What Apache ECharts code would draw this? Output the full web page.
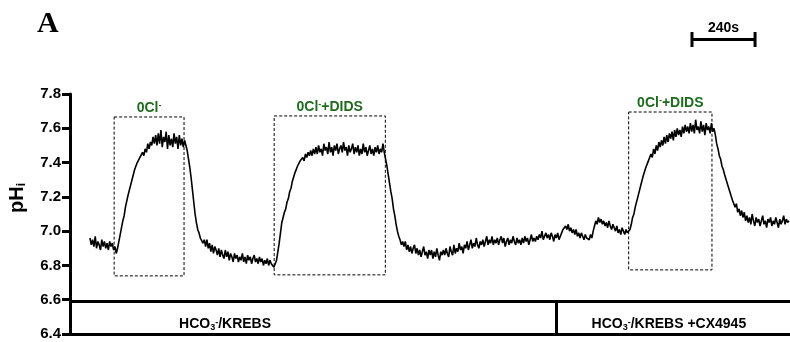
<!DOCTYPE html>
<html lang="en">
<head>
<meta charset="utf-8">
<title>pHi trace</title>
<script src="https://cdn.jsdelivr.net/npm/echarts@6.0.0/dist/echarts.min.js"></script>
<style>
  html, body { margin: 0; padding: 0; background: #fff; }
  #main { width: 790px; height: 342px; }
</style>
</head>
<body>
<div id="main"></div>
<script type="text/javascript">
// time axis in seconds, one sample every 5 s
var traceStart = 76;
var traceStep = 5;
var timeMax = 2740;

// pHi
var phTrace = [
  // baseline
  6.96, 6.92, 6.95, 6.91, 6.97, 6.90, 6.94, 6.92, 6.89, 6.95, 6.91, 6.94, 6.90, 6.93, 6.89, 6.94, 6.91, 6.93, 6.89, 6.91, 6.87,
  // 0Cl- on
  6.90, 6.94, 6.98, 7.02, 7.06, 7.09, 7.14, 7.15, 7.21, 7.24, 7.25, 7.30, 7.31, 7.36, 7.35,
  7.40, 7.39, 7.43, 7.42, 7.46, 7.44, 7.48, 7.46, 7.51, 7.48, 7.52, 7.50, 7.55, 7.51, 7.56,
  7.50, 7.57, 7.51, 7.59, 7.49, 7.55, 7.52, 7.58, 7.48, 7.56, 7.50, 7.54, 7.49, 7.57, 7.51, 7.55, 7.48, 7.56, 7.50, 7.54, 7.49, 7.53,
  // washout
  7.52, 7.47, 7.42, 7.37, 7.31, 7.24, 7.17, 7.10, 7.05, 7.01, 6.99, 6.96, 6.97, 6.93, 6.95,
  6.91, 6.95, 6.90, 6.93, 6.88, 6.92, 6.87, 6.91, 6.89, 6.86,
  6.90, 6.85, 6.89, 6.86, 6.84, 6.89, 6.85, 6.88, 6.83, 6.87,
  6.85, 6.82, 6.87, 6.84, 6.86, 6.82, 6.85, 6.83, 6.87, 6.82,
  6.85, 6.81, 6.86, 6.83, 6.85, 6.81, 6.84, 6.86, 6.82, 6.84,
  6.81, 6.85, 6.82, 6.84, 6.80, 6.83, 6.81, 6.84, 6.80, 6.83, 6.81, 6.82, 6.79, 6.81,
  // 0Cl- + DIDS on
  6.83, 6.88, 6.93, 6.99, 7.05, 7.08, 7.11, 7.13, 7.17, 7.19, 7.23, 7.25, 7.29, 7.30, 7.34,
  7.35, 7.38, 7.37, 7.41, 7.40, 7.43, 7.41, 7.45, 7.43, 7.46, 7.44, 7.47, 7.44, 7.48, 7.45,
  7.49, 7.45, 7.50, 7.46, 7.48, 7.44, 7.51, 7.47, 7.49, 7.45,
  7.52, 7.46, 7.49, 7.44, 7.50, 7.47, 7.51, 7.45, 7.48, 7.50,
  7.46, 7.52, 7.47, 7.49, 7.44, 7.50, 7.46, 7.48, 7.51, 7.45,
  7.49, 7.46, 7.50, 7.44, 7.48, 7.45, 7.51, 7.46, 7.49, 7.44,
  7.47, 7.50, 7.45, 7.48, 7.44, 7.49, 7.46, 7.50, 7.45, 7.48,
  7.46, 7.51,
  // washout
  7.46, 7.42, 7.38, 7.33, 7.28, 7.23, 7.19, 7.13, 7.09, 7.04, 7.00, 6.97, 6.95, 6.92, 6.94,
  6.91, 6.94, 6.89, 6.92, 6.88, 6.91, 6.87, 6.90, 6.92, 6.87,
  6.90, 6.86, 6.89, 6.85, 6.88, 6.91, 6.86, 6.88, 6.84, 6.89,
  6.86, 6.89, 6.84, 6.88, 6.85, 6.90, 6.86, 6.83, 6.88, 6.86,
  6.89, 6.86, 6.90, 6.87, 6.85, 6.91, 6.88, 6.86, 6.92, 6.87,
  6.90, 6.88, 6.93, 6.89, 6.91, 6.87, 6.92, 6.90, 6.94, 6.89,
  6.92, 6.95, 6.90, 6.93, 6.91, 6.96, 6.92, 6.90, 6.94, 6.92,
  6.95, 6.91, 6.94, 6.97, 6.92, 6.95, 6.93, 6.97, 6.92, 6.95,
  6.93, 6.96, 6.92, 6.95, 6.97, 6.93, 6.96, 6.91, 6.94, 6.96,
  6.92, 6.95, 6.93, 6.97, 6.94, 6.92, 6.96, 6.93, 6.95, 6.92,
  6.96, 6.93, 6.97, 6.94, 6.96, 6.92, 6.95, 6.98, 6.94, 6.96,
  6.94, 6.97, 6.95, 6.98, 6.96, 7.00, 6.95, 6.97, 6.99, 6.96,
  // CX4945
  6.98, 6.95, 6.99, 6.97, 6.94, 6.98, 6.96, 6.99, 6.95, 6.97,
  6.99, 7.01, 7.00, 7.03, 7.01, 7.04, 7.00, 7.02, 6.99, 7.01,
  6.98, 7.01, 6.97, 6.99, 6.96, 6.99, 6.97, 6.95, 6.98, 6.96,
  6.97, 6.95, 6.98, 6.96, 7.00, 7.03, 7.06, 7.04, 7.08, 7.05,
  7.07, 7.04, 7.06, 7.03, 7.05, 7.02, 7.06, 7.03, 7.01, 7.04,
  7.02, 7.00, 7.03, 6.99, 7.01, 6.98, 7.02, 7.00, 6.98, 7.01, 6.99, 7.00,
  // 0Cl- + DIDS on
  7.01, 7.04, 7.08, 7.10, 7.14, 7.15, 7.20, 7.21, 7.26, 7.27, 7.32, 7.33, 7.37, 7.36, 7.41,
  7.40, 7.45, 7.43, 7.48, 7.45, 7.50, 7.47, 7.52, 7.49, 7.53, 7.50, 7.55, 7.51, 7.56, 7.52,
  7.57, 7.54, 7.58, 7.53, 7.59, 7.55, 7.60, 7.56, 7.59, 7.55, 7.61, 7.57, 7.62, 7.58, 7.61, 7.57,
  7.63, 7.58, 7.62, 7.57, 7.65, 7.59, 7.61, 7.57, 7.64, 7.58, 7.62, 7.56, 7.63, 7.59, 7.61, 7.57, 7.63, 7.58, 7.60,
  // washout
  7.56, 7.51, 7.48, 7.44, 7.42, 7.38, 7.36, 7.33, 7.32, 7.28, 7.27, 7.23, 7.22, 7.18, 7.19,
  7.14, 7.16, 7.11, 7.13, 7.09, 7.12, 7.08, 7.11,
  7.06, 7.09, 7.05, 7.08, 7.04, 7.10, 7.06, 7.03, 7.08, 7.05,
  7.07, 7.03, 7.06, 7.09, 7.04, 7.06, 7.02, 7.07, 7.05, 7.08,
  7.03, 7.06, 7.04, 7.08, 7.05, 7.02, 7.07, 7.04, 7.06, 7.09,
  7.04, 7.07, 7.05, 7.06
];

// solution-change boxes: [start s, end s] and [top pH, bottom pH]
var boxNames = ['0Cl{sup|-}', '0Cl{sup|-}+DIDS', '0Cl{sup|-}+DIDS'];
var boxTimes = [[168, 434], [777, 1200], [2126, 2443]];
var boxPh = [[7.666, 6.739], [7.672, 6.745], [7.695, 6.774]];

// perfusion bar at the bottom
var barTop = 6.59;
var barSplit = 1852;
var barNames = ['HCO{sub|3}{sup|-}/KREBS', 'HCO{sub|3}{sup|-}/KREBS +CX4945'];
var barLabelTimes = [590, 2279];
var barLabelPh = 6.455;

var yTicks = [6.4, 7.8, 0.2];
var scaleBar = [2367, 240];

var font = '"Liberation Sans", Arial, sans-serif';
var green = '#1e6b1e';

var trace = phTrace.map(function (v, i) { return [traceStart + i * traceStep, v]; });

var boxAreas = boxTimes.map(function (t, i) {
  return [
    { name: boxNames[i], coord: [t[0], boxPh[i][0]] },
    { coord: [t[1], boxPh[i][1]] }
  ];
});

var richText = {
  sup: { fontSize: 9, fontWeight: 'bold', fontFamily: font, verticalAlign: 'top', lineHeight: 10, padding: [0, 0, 6, 0] },
  sub: { fontSize: 9, fontWeight: 'bold', fontFamily: font, verticalAlign: 'bottom', lineHeight: 10, padding: [6, 0, 0, 0] }
};

var myChart = echarts.init(document.getElementById('main'));

myChart.setOption({
  animation: false,
  grid: { left: 70, right: 0, top: 94, bottom: 8, outerBoundsMode: 'none', containLabel: false },
  xAxis: {
    type: 'value',
    min: 0,
    max: timeMax,
    axisLine: { show: true, onZero: false, lineStyle: { color: '#000', width: 3 } },
    axisTick: { show: false },
    axisLabel: { show: false },
    splitLine: { show: false }
  },
  yAxis: {
    type: 'value',
    min: yTicks[0],
    max: yTicks[1],
    interval: yTicks[2],
    name: 'pH{sub|i}',
    nameLocation: 'middle',
    nameGap: 42,
    nameTextStyle: {
      color: '#000', fontSize: 20, fontWeight: 'bold', fontFamily: font,
      padding: [0, 0, 0, 32],
      rich: { sub: { fontSize: 12, fontWeight: 'bold', fontFamily: font, verticalAlign: 'bottom', padding: [9, 0, 0, 0] } }
    },
    axisLine: { show: true, lineStyle: { color: '#000', width: 3 } },
    axisTick: { show: true, length: 8, lineStyle: { color: '#000', width: 3 } },
    axisLabel: {
      color: '#000', fontSize: 15, fontWeight: 'bold', fontFamily: font, margin: 9,
      formatter: function (v) { return v.toFixed(1); }
    },
    splitLine: { show: false }
  },
  series: [{
    type: 'line',
    data: trace,
    showSymbol: false,
    symbol: 'none',
    lineStyle: { color: '#000', width: 1.6 },
    markArea: {
      silent: true,
      itemStyle: { color: 'rgba(0,0,0,0)', borderColor: '#000', borderWidth: 1, borderType: [3, 2] },
      label: {
        show: true, position: 'top', distance: 1,
        color: green, fontSize: 14, fontWeight: 'bold', fontFamily: font,
        rich: richText
      },
      data: boxAreas
    },
    markLine: {
      silent: true,
      symbol: 'none',
      label: { show: false },
      lineStyle: { color: '#000', width: 3, type: 'solid' },
      data: [
        { yAxis: barTop },
        [{ coord: [barSplit, yTicks[0]] }, { coord: [barSplit, barTop] }]
      ]
    }
  }]
});

var sx = myChart.convertToPixel({ xAxisIndex: 0 }, scaleBar[0]);
var ex = myChart.convertToPixel({ xAxisIndex: 0 }, scaleBar[0] + scaleBar[1]);

var graphics = [
  { type: 'text', left: 37, top: 9, style: { text: 'A', fill: '#000', font: 'bold 30px "Liberation Serif", "Times New Roman", serif' } },
  { type: 'line', shape: { x1: sx, y1: 39.5, x2: ex, y2: 39.5 }, style: { stroke: '#000', lineWidth: 3 } },
  { type: 'line', shape: { x1: sx, y1: 32, x2: sx, y2: 47 }, style: { stroke: '#000', lineWidth: 3 } },
  { type: 'line', shape: { x1: ex, y1: 32, x2: ex, y2: 47 }, style: { stroke: '#000', lineWidth: 3 } },
  { type: 'text', x: (sx + ex) / 2, y: 28, style: { text: '240s', fill: '#000', font: 'bold 14px ' + font, align: 'center', verticalAlign: 'middle' } }
];

barNames.forEach(function (name, i) {
  var p = myChart.convertToPixel({ xAxisIndex: 0, yAxisIndex: 0 }, [barLabelTimes[i], barLabelPh]);
  graphics.push({
    type: 'text', x: p[0], y: p[1],
    style: {
      text: name, fill: '#000', font: 'bold 14px ' + font, align: 'center', verticalAlign: 'middle',
      rich: richText
    }
  });
});

myChart.setOption({ graphic: graphics });
</script>
</body>
</html>
